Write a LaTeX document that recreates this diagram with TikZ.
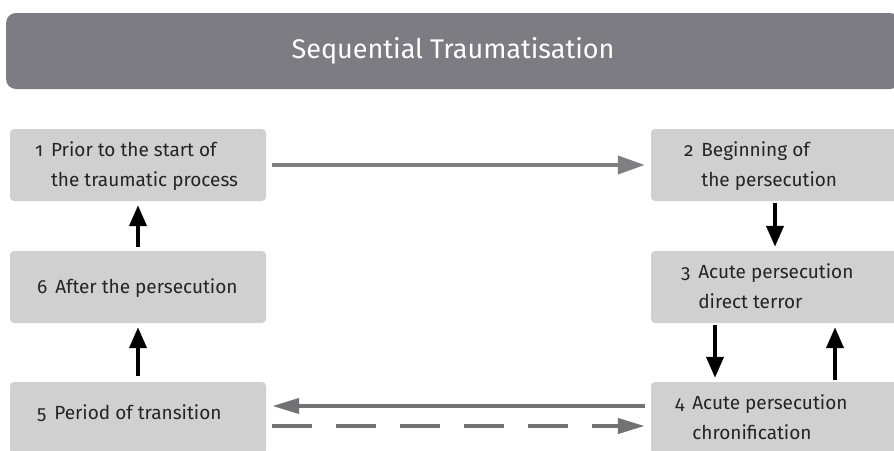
\documentclass[tikz,border=0pt]{standalone}
\usepackage{fontspec}
\setmainfont[Numbers=OldStyle]{Fira Sans}
\usetikzlibrary{arrows.meta,positioning}
\definecolor{boxgray}{HTML}{D0D0D0}
\definecolor{titlegray}{HTML}{7C7C82}
\definecolor{arrowgray}{HTML}{7F7F82}
\definecolor{textdark}{HTML}{242424}
\newcommand{\stagetext}[2]{#1\hspace{8pt}\begin{tabular}[t]{@{}l@{}}#2\end{tabular}}

\begin{document}
\begin{tikzpicture}[
    x=1pt, y=-1pt,
    stage/.style={rectangle, fill=boxgray, rounded corners=4pt, minimum width=256pt, minimum height=72pt, inner sep=0pt},
    lbl/.style={inner sep=0pt, text=textdark, font=\fontsize{19}{30}\selectfont},
    darrow/.style={-{Triangle[length=21pt, width=17pt]}, line width=4pt, black},
    garrow/.style={-{Triangle[length=27pt, width=18pt]}, line width=4pt, arrowgray},
    larrow/.style={-{Triangle[length=27pt, width=15pt]}, line width=4pt, arrowgray!90!black}
]
\clip (0,0) rectangle (894,450);
\node[fill=titlegray, rounded corners=10pt, minimum width=894pt, minimum height=76pt, text=white, font=\fontsize{27}{30}\selectfont] (title) at (453,51) {Sequential Traumatisation};

\node[stage] (b1) at (138,165) {};
\node[stage] (b6) at (138,287) {};
\node[stage] (b5) at (138,418) {};
\node[stage, minimum width=248pt] (b2) at (775,165) {};
\node[stage, minimum width=248pt] (b3) at (775,287) {};
\node[stage, minimum width=248pt] (b4) at (775,418) {};

\node[lbl, right=25pt of b1.west] (t1) {\stagetext{1}{Prior to the start of\\the traumatic process}};
\node[lbl, right=33pt of b2.west] (t2) {\stagetext{2}{Beginning of\\the persecution}};
\node[lbl, right=30pt of b3.west] (t3) {\stagetext{3}{Acute persecution\\direct terror}};
\node[lbl, right=24pt of b4.west] (t4) {\stagetext{4}{Acute persecution\\chronification}};
\node[lbl, right=27pt of b5.west, yshift=5pt] (t5) {\stagetext{5}{Period of transition}};
\node[lbl, right=27pt of b6.west] (t6) {\stagetext{6}{After the persecution}};

\draw[garrow] ([xshift=6pt]b1.east) -- ([xshift=-6pt]b2.west);
\draw[darrow] ([yshift=-2pt]b2.south) -- ([yshift=4pt]b3.north);
\draw[darrow] ([shift={(-60pt,-2pt)}]b3.south) -- ([shift={(-60pt,4pt)}]b4.north);
\draw[darrow] ([shift={(60pt,2pt)}]b4.north) -- ([shift={(60pt,-4pt)}]b3.south);
\draw[darrow] ([yshift=6pt]b5.north) -- ([yshift=-4pt]b6.south);
\draw[darrow] ([yshift=4pt]b6.north) -- ([yshift=-4pt]b1.south);
\draw[larrow] ([shift={(-6pt,12pt)}]b4.west) -- ([shift={(6pt,12pt)}]b5.east);
\draw[larrow, dash pattern=on 40pt off 24pt] ([shift={(6pt,-8pt)}]b5.east) -- ([shift={(-6pt,-8pt)}]b4.west);
\end{tikzpicture}
\end{document}
